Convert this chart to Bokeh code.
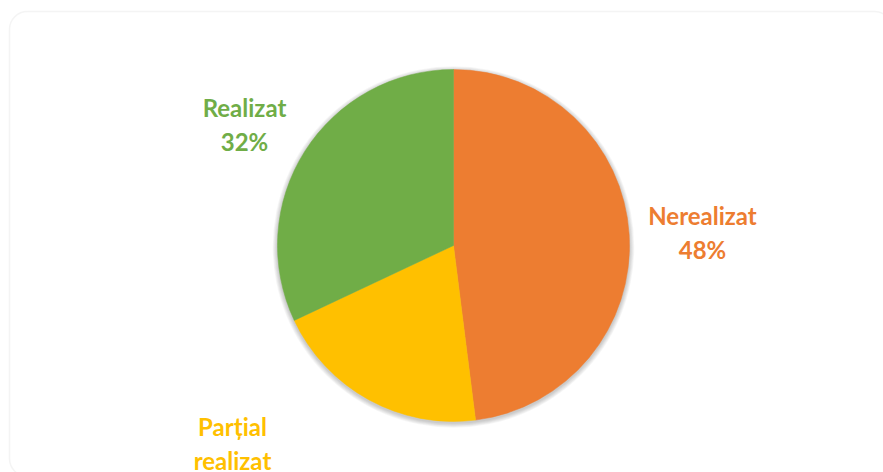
import math
from bokeh.plotting import figure
from bokeh.models import Range1d, BoxAnnotation, ColumnDataSource
from bokeh.core.properties import value
from bokeh.embed import file_html
from bokeh.resources import INLINE

# ---- data ----
categories = ["Nerealizat", "Parțial\nrealizat", "Realizat"]
percent = [48, 20, 32]
colors = ["#ED7D31", "#FFC000", "#70AD47"]

# ---- layout (pixels) ----
W, H = 883, 472
cx, cy, R = 453, 227, 176
label_x = [702, 232, 244]
label_top = [272, 61, 380]

p = figure(width=W, height=H, output_backend="svg", toolbar_location=None,
           x_range=Range1d(0, W), y_range=Range1d(0, H), min_border=0)
p.axis.visible = False
p.grid.visible = False
p.outline_line_color = None
p.background_fill_color = "white"
p.border_fill_color = "white"

# rounded chart border
p.add_layout(BoxAnnotation(left=9, right=892, top=461, bottom=-4,
                           fill_color=None, line_color="#D9D9D9", line_width=1.5,
                           border_radius=18))

# soft shadow
for k in range(1, 7):
    p.circle(x=[cx], y=[cy - 1.5], radius=R + k * 0.8, fill_color="black",
             fill_alpha=0.035, line_color=None)

total = sum(percent)
starts, ends, acc = [], [], 0
for v in percent:
    starts.append(math.pi / 2 - 2 * math.pi * acc / total)
    acc += v
    ends.append(math.pi / 2 - 2 * math.pi * acc / total)

src = ColumnDataSource(dict(start=starts, end=ends, color=colors))
p.wedge(x=cx, y=cy, radius=R, start_angle="start", end_angle="end",
        direction="clock", fill_color="color", line_color="color",
        line_width=0.5, source=src)

labels = [f"{c}\n{v}%" for c, v in zip(categories, percent)]
lsrc = ColumnDataSource(dict(x=label_x, y=label_top, text=labels, color=colors))
p.text(x="x", y="y", text="text", source=lsrc, text_color="color",
       text_font=value("Lato"), text_font_style="bold", text_font_size="24px",
       text_align="center", text_baseline="top", text_line_height=1.18)

open("out.html", "w").write(file_html(p, INLINE))
